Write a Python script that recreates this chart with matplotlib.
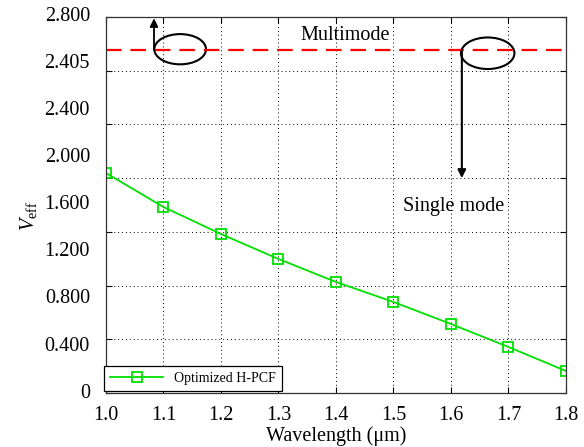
import numpy as np
import matplotlib
matplotlib.use("Agg")
import matplotlib.pyplot as plt
from matplotlib.patches import Ellipse

plt.rcParams['font.family'] = ['Liberation Serif', 'DejaVu Serif']
plt.rcParams['mathtext.fontset'] = 'custom'
plt.rcParams['mathtext.rm'] = 'Liberation Serif'
plt.rcParams['mathtext.it'] = 'Liberation Serif:italic'

wavelength = [1.0, 1.1, 1.2, 1.3, 1.4, 1.5, 1.6, 1.7, 1.8]
veff = [1.638, 1.385, 1.184, 0.998, 0.827, 0.678, 0.514, 0.343, 0.164]
cutoff = 2.554
ytick_labels = ["0", "0.400", "0.800", "1.200", "1.600", "2.000", "2.400", "2.405", "2.800"]
xticks = [1.0, 1.1, 1.2, 1.3, 1.4, 1.5, 1.6, 1.7, 1.8]
ygrid = [0, 0.4, 0.8, 1.2, 1.6, 2.0, 2.4, 2.8]

fs = 14.5

fig = plt.figure(figsize=(5.84, 4.47), dpi=100)
ax = fig.add_axes([0.1815, 0.1208, 0.7875, 0.8412])

green = "#00e000"
ax.plot(wavelength, veff, color=green, lw=1.3, marker="s", ms=7,
        mfc="none", mec=green, mew=1.3, label="Optimized H-PCF")
ax.axhline(cutoff, color="red", ls=(0, (7, 4)), lw=1.6)

ax.set_xlim(1.0, 1.8)
ax.set_ylim(0, 2.8)
ax.set_xticks(xticks)
ax.set_xticklabels([f"{v:.1f}" for v in xticks])
ax.set_yticks(ygrid)
ax.set_yticklabels([])
ax.grid(True, color="black", ls=(0, (1, 3)), lw=0.7)
ax.tick_params(direction="in", top=True, right=True, length=4,
               labelsize=fs, width=0.8)
ax.tick_params(axis="x", pad=9)
for s in ax.spines.values():
    s.set_linewidth(0.9)
    s.set_color("#333333")

# tick labels are spread evenly along the axis, not at the grid lines
for i, lab in enumerate(ytick_labels):
    ax.text(-0.035, i / 8, lab, transform=ax.transAxes, ha="right",
            va="center", fontsize=fs)

ax.set_xlabel("Wavelength (\u03bcm)", fontsize=fs, labelpad=1)
ax.text(-0.168, 0.47, r"$V_{\mathrm{eff}}$", transform=ax.transAxes,
        fontsize=fs, rotation=90, ha="center", va="center")

ax.add_patch(Ellipse((1.129, 2.56), 0.09, 0.225, fill=False, lw=1.5, color="black"))
ax.add_patch(Ellipse((1.664, 2.53), 0.093, 0.235, fill=False, lw=1.5, color="black"))
ax.annotate("", xy=(1.0835, 2.79), xytext=(1.0835, 2.554),
            arrowprops=dict(arrowstyle="-|>", color="black", lw=1.3,
                            mutation_scale=12, shrinkA=0, shrinkB=0))
ax.annotate("", xy=(1.619, 1.60), xytext=(1.619, 2.554),
            arrowprops=dict(arrowstyle="-|>", color="black", lw=1.5,
                            mutation_scale=12, shrinkA=0, shrinkB=0))
ax.text(1.416, 2.665, "Multimode", fontsize=fs, ha="center", va="center")
ax.text(1.605, 1.39, "Single mode", fontsize=fs, ha="center", va="center")

leg = ax.legend(loc="lower left", bbox_to_anchor=(104 / 584, 56 / 447),
                bbox_transform=fig.transFigure, fontsize=10, fancybox=False,
                framealpha=1, edgecolor="black", borderpad=0.45,
                handlelength=3.8, borderaxespad=0)
leg.get_frame().set_linewidth(0.9)

fig.savefig("out.png", dpi=100)
